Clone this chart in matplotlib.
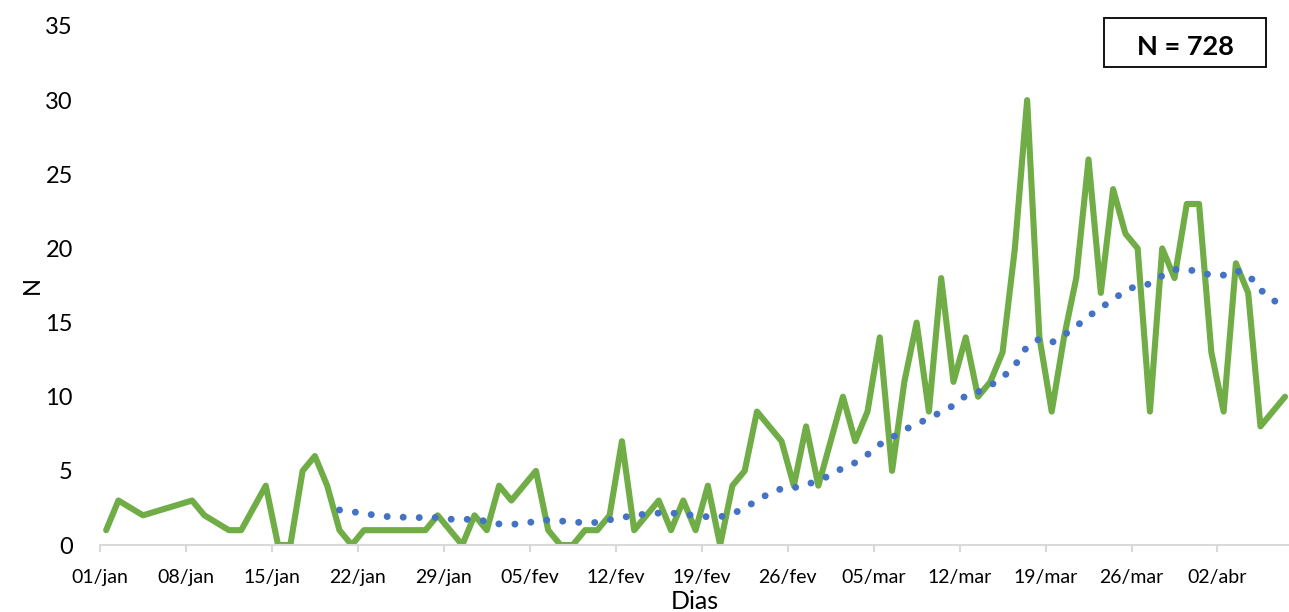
import matplotlib
matplotlib.use("Agg")
import matplotlib.pyplot as plt
from matplotlib.patches import Rectangle

GREEN = "#70AD47"
BLUE = "#4472C4"
AXIS = "#D9D9D9"

plt.rcParams["font.family"] = ["Lato", "DejaVu Sans"]

# day index counted from 01/jan (missing days have no record)
dia = [0, 1, 3, 7, 8, 10, 11, 13, 14, 15, 16, 17, 18, 19, 20, 21, 22, 23, 24, 25,
       26, 27, 28, 29, 30, 31, 32, 33, 34, 35, 36, 37, 38, 39, 40, 41, 42, 43, 44,
       45, 46, 47, 48, 49, 50, 51, 52, 53, 54, 55, 56, 57, 58, 59, 60, 61, 62, 63,
       64, 65, 66, 67, 68, 69, 70, 71, 72, 73, 74, 75, 76, 77, 78, 79, 80, 81, 82,
       83, 84, 85, 86, 87, 88, 89, 90, 91, 92, 93, 94, 95, 96]
casos = [1, 3, 2, 3, 2, 1, 1, 4, 0, 0, 5, 6, 4, 1, 0, 1, 1, 1, 1, 1,
         1, 2, 1, 0, 2, 1, 4, 3, 4, 5, 1, 0, 0, 1, 1, 2, 7, 1, 2,
         3, 1, 3, 1, 4, 0, 4, 5, 9, 8, 7, 4, 8, 4, 7, 10, 7, 9, 14,
         5, 11, 15, 9, 18, 11, 14, 10, 11, 13, 20, 30, 14, 9, 14, 18, 26, 17, 24,
         21, 20, 9, 20, 18, 23, 23, 13, 9, 19, 17, 8, 9, 10]

# trend line (moving average), days 19..96
dia_tend = list(range(19, 97))
tendencia = [2.36, 2.25, 2.12, 2.0, 1.91, 1.88, 1.85, 1.85, 1.86, 1.74,
             1.74, 1.72, 1.6, 1.42, 1.39, 1.45, 1.6, 1.69, 1.62, 1.55,
             1.5, 1.52, 1.7, 1.85, 2.0, 2.09, 2.15, 2.16, 2.08, 1.98,
             1.9, 1.9, 2.1, 2.5, 3.0, 3.48, 3.8, 3.86, 4.05, 4.37,
             4.7, 5.21, 5.55, 6.1, 6.78, 7.25, 7.75, 8.2, 8.5, 9.0,
             9.4, 10.07, 10.32, 10.75, 11.3, 12.1, 13.4, 13.9, 13.65, 14.15,
             14.75, 15.42, 16.0, 16.55, 17.15, 17.5, 17.6, 18.16, 18.57, 18.6,
             18.4, 18.2, 18.2, 18.5, 18.25, 17.2, 16.6, 15.7]

tick_dias = [0, 7, 14, 21, 28, 35, 42, 49, 56, 63, 70, 77, 84, 91]
rotulos = ["01/jan", "08/jan", "15/jan", "22/jan", "29/jan", "05/fev", "12/fev",
           "19/fev", "26/fev", "05/mar", "12/mar", "19/mar", "26/mar", "02/abr"]

W, H = 1289, 612
fig = plt.figure(figsize=(W / 100, H / 100), dpi=100)
ax = fig.add_axes([100 / W, 67 / H, (W - 100) / W, 519 / H])

# points sit in the middle of each day slot
ax.plot([d + 0.5 for d in dia], casos, color=GREEN, lw=4.4,
        solid_joinstyle="round", solid_capstyle="round", zorder=2)
ax.plot([d + 0.5 for d in dia_tend], tendencia, color=BLUE, lw=5,
        linestyle=(0, (0.01, 2.3)), dash_capstyle="round", zorder=3)

ax.set_xlim(0, (W - 100) / 12.28)
ax.set_ylim(0, 35)
ax.set_yticks(range(0, 36, 5))
ax.set_xticks(tick_dias)
ax.set_xticklabels(rotulos)

for s in ["top", "right", "left"]:
    ax.spines[s].set_visible(False)
ax.spines["bottom"].set_color(AXIS)
ax.spines["bottom"].set_linewidth(1.5)
ax.tick_params(axis="x", colors=AXIS, length=5, width=1.5, labelsize=14,
               labelcolor="black", pad=12)
ax.tick_params(axis="y", length=0, labelsize=17, pad=19.5)

ax.set_xlabel("Dias", fontsize=18, labelpad=3)
ax.set_ylabel("N", fontsize=17, labelpad=2)

fig.patches.append(Rectangle((1104 / W, 1 - 67 / H), 162 / W, 49 / H,
                             transform=fig.transFigure, fill=False,
                             edgecolor="black", lw=1.3))
fig.text(1185 / W, 1 - 47 / H, "N = 728", fontsize=19.5, fontweight="bold",
         ha="center", va="center")

fig.savefig("out.png", dpi=100)
